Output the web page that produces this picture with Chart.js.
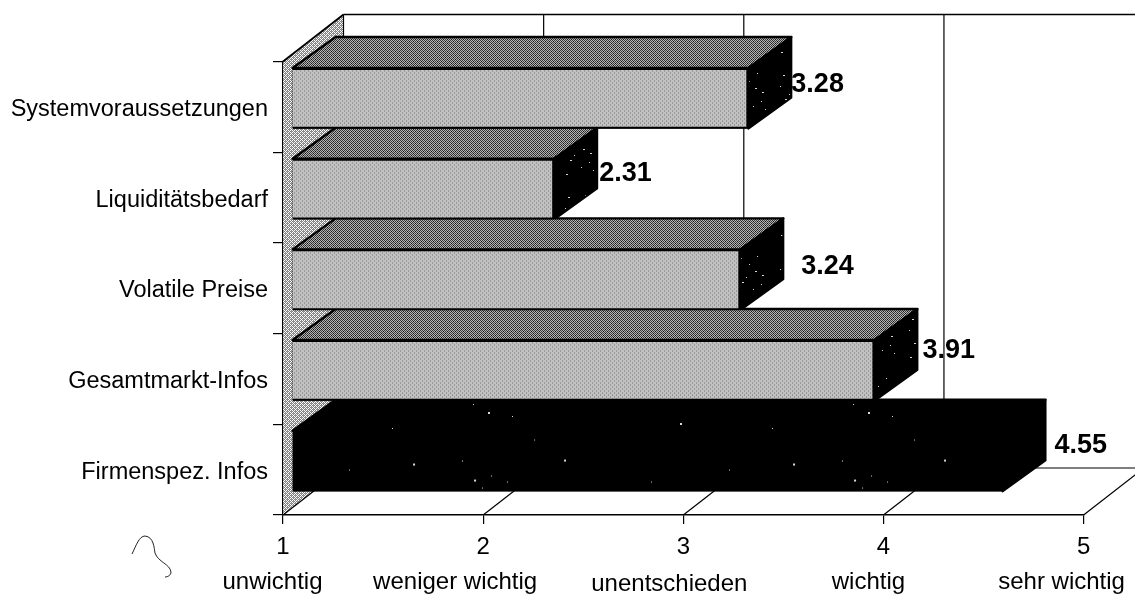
<!DOCTYPE html>
<html><head><meta charset="utf-8">
<style>html,body{margin:0;padding:0;background:#fff}canvas{display:block}</style>
<script src="https://cdn.jsdelivr.net/npm/chart.js@4"></script></head>
<body><canvas id="c" width="1135" height="594"></canvas>
<script>
const categories = ["Systemvoraussetzungen","Liquiditätsbedarf","Volatile Preise","Gesamtmarkt-Infos","Firmenspez. Infos"];
const values = [3.28,2.31,3.24,3.91,4.55];
const valueLabels = ["3.28","2.31","3.24","3.91","4.55"];
const xTicks = [1,2,3,4,5];
const xWords = ["unwichtig","weniger wichtig","unentschieden","wichtig","sehr wichtig"];

const FONT = '"Liberation Sans", Arial, sans-serif';
function tile(size, cells){
  const c=document.createElement('canvas');c.width=c.height=size;
  const x=c.getContext('2d');
  cells.forEach((row,j)=>row.forEach((col,i)=>{x.fillStyle=col;x.fillRect(i,j,1,1);}));
  return c;
}
function checker(a,b,c){
  return [[a,b,a,b],[b,c,b,a],[a,b,a,b],[b,a,b,c]];
}
function speckTile(w,h,specks){
  const c=document.createElement('canvas');c.width=w;c.height=h;
  const x=c.getContext('2d');x.fillStyle='#000';x.fillRect(0,0,w,h);
  x.fillStyle='#d8d8d8';
  specks.forEach(p=>x.fillRect(p[0],p[1],p[2]||1,p[3]||1));
  return c;
}
const pctx=document.createElement('canvas').getContext('2d');
const frontFill=pctx.createPattern(tile(4,checker('#f6f6f6','#8c8c8c','#a8a8a8')),'repeat');
const topFill=pctx.createPattern(tile(4,checker('#3a3a3a','#b4b4b4','#141414')),'repeat');
const wallFill=pctx.createPattern(tile(4,checker('#ffffff','#808080','#a0a0a0')),'repeat');
const darkFill=pctx.createPattern(speckTile(43,61,[[9,14,2,1],[18,20],[31,31,2,1],[22,45],[7,52,2,1],[26,12],[11,38,2,1],[34,48],[24,27,2,1],[30,40],[15,33],[6,25]]),'repeat');
const blackFill=pctx.createPattern(speckTile(380,92,[[24,12,2,2],[73,9],[85,28,2,2],[93,36],[102,24],[108,44,2,2],[118,30],[132,48],[175,8,2,2],[220,62],[60,70,2,2],[262,30],[145,80],[300,55,2,2],[340,18],[12,60]]),'repeat');

const barFills=[frontFill,frontFill,frontFill,frontFill,blackFill];
const sideFills=[darkFill,darkFill,darkFill,darkFill,blackFill];
const topFills=[topFill,topFill,topFill,topFill,blackFill];

const SHIFT_X=9,SHIFT_Y=-8.5,BAR_DX=43,BAR_DY=-31,WALL_DX=60.5,WALL_DY=-47;

function poly(ctx,pts,fill,stroke,lw){
  ctx.beginPath();pts.forEach((p,i)=>i?ctx.lineTo(p[0],p[1]):ctx.moveTo(p[0],p[1]));ctx.closePath();
  if(fill){ctx.fillStyle=fill;ctx.fill();}
  if(stroke){ctx.strokeStyle=stroke;ctx.lineWidth=lw||1.5;ctx.lineJoin='round';ctx.stroke();}
}
function line(ctx,a,b,c,d,lw){ctx.beginPath();ctx.moveTo(a,b);ctx.lineTo(c,d);ctx.strokeStyle='#000';ctx.lineWidth=lw||1.2;ctx.stroke();}

const scene={
  id:'scene',
  beforeDatasetsDraw(chart){
    const ctx=chart.ctx,a=chart.chartArea,xs=chart.scales.x,W=chart.width;
    ctx.save();
    const bx=a.left+WALL_DX, ty=a.top+WALL_DY, by=a.bottom+WALL_DY;
    poly(ctx,[[a.left,a.top],[bx,ty],[bx,by],[a.left,a.bottom]],wallFill);
    line(ctx,a.left,a.top,bx,ty,1.8);
    line(ctx,bx,ty,bx,by,1.2);
    line(ctx,a.left,a.bottom,bx,by,1.2);
    line(ctx,bx,ty,W,ty,1.6);
    line(ctx,bx,by,W,by,1.2);
    xTicks.forEach(v=>{
      const x=xs.getPixelForValue(v);
      if(v>1&&x+WALL_DX<W) line(ctx,x+WALL_DX,ty,x+WALL_DX,by,1.2);
      if(v>1) line(ctx,x,a.bottom,x+WALL_DX,by,1.2);
    });
    const meta=chart.getDatasetMeta(0);
    meta.data.forEach((el,i)=>{
      const h=el.height,l=el.base+SHIFT_X,r=el.x+SHIFT_X,t=el.y-h/2+SHIFT_Y,b=el.y+h/2+SHIFT_Y;
      poly(ctx,[[l,t],[l+BAR_DX,t+BAR_DY],[r+BAR_DX,t+BAR_DY],[r,t]],topFills[i],'#000',2.4);
      poly(ctx,[[r,t],[r+BAR_DX,t+BAR_DY],[r+BAR_DX,b+BAR_DY],[r,b]],sideFills[i],'#000',2);
      poly(ctx,[[l,t],[r,t],[r,b],[l,b]],'#000');
    });
    ctx.restore();
  },
  beforeDatasetDraw(chart){chart.ctx.save();chart.ctx.translate(SHIFT_X,SHIFT_Y);},
  afterDatasetDraw(chart){chart.ctx.restore();},
  afterDatasetsDraw(chart){
    const ctx=chart.ctx,xs=chart.scales.x,meta=chart.getDatasetMeta(0);
    ctx.save();
    ctx.fillStyle='#000';ctx.font='bold 27px '+FONT;ctx.textAlign='left';ctx.textBaseline='middle';
    const labelDx=[52,54,70,57,61],labelDy=[-22,-24,-22,-28,-24];
    meta.data.forEach((el,i)=>{
      ctx.fillText(valueLabels[i],el.x+labelDx[i],el.y+labelDy[i]);
    });
    ctx.font='24px '+FONT;ctx.textAlign='center';
    const wordDx=[-10.5,-28,-14,-15,-22],wordY=[582,582,584,582,582];
    xWords.forEach((w,i)=>ctx.fillText(w,xs.getPixelForValue(xTicks[i])+wordDx[i],wordY[i]));
    // stray pen stroke below the chart
    ctx.beginPath();ctx.moveTo(132,554);ctx.bezierCurveTo(136,546,139,536,145,536);
    ctx.bezierCurveTo(154,537,154,548,155,553);ctx.bezierCurveTo(158,562,170,564,171,572);
    ctx.bezierCurveTo(171,575,168,577,165,577);
    ctx.strokeStyle='#222';ctx.lineWidth=1;ctx.stroke();
    ctx.restore();
  }
};

new Chart(document.getElementById('c'),{
  type:'bar',
  data:{labels:categories,datasets:[{data:values,base:1,backgroundColor:barFills,borderColor:'#000',borderWidth:2,categoryPercentage:1,barPercentage:0.67,clip:false}]},
  options:{
    indexAxis:'y',responsive:false,animation:false,
    layout:{padding:{top:61.5,right:51.4,left:0,bottom:0}},
    plugins:{legend:{display:false},tooltip:{enabled:false}},
    scales:{
      x:{type:'linear',min:1,max:5,
        afterFit(s){s.height=79;},
        border:{display:true,color:'#000',width:1.4},
        grid:{drawOnChartArea:false,drawTicks:true,tickLength:9,color:'#000',lineWidth:1.2},
        ticks:{stepSize:1,color:'#000',padding:9,maxRotation:0,font:{family:FONT,size:24}}},
      y:{
        afterFit(s){s.width=283;},
        border:{display:true,color:'#000',width:1.4},
        grid:{drawOnChartArea:false,drawTicks:true,tickLength:10,color:'#000',lineWidth:1.2},
        ticks:{color:'#000',padding:5,labelOffset:2.5,font:{family:FONT,size:23.5}}}
    }
  },
  plugins:[scene]
});
</script></body></html>
